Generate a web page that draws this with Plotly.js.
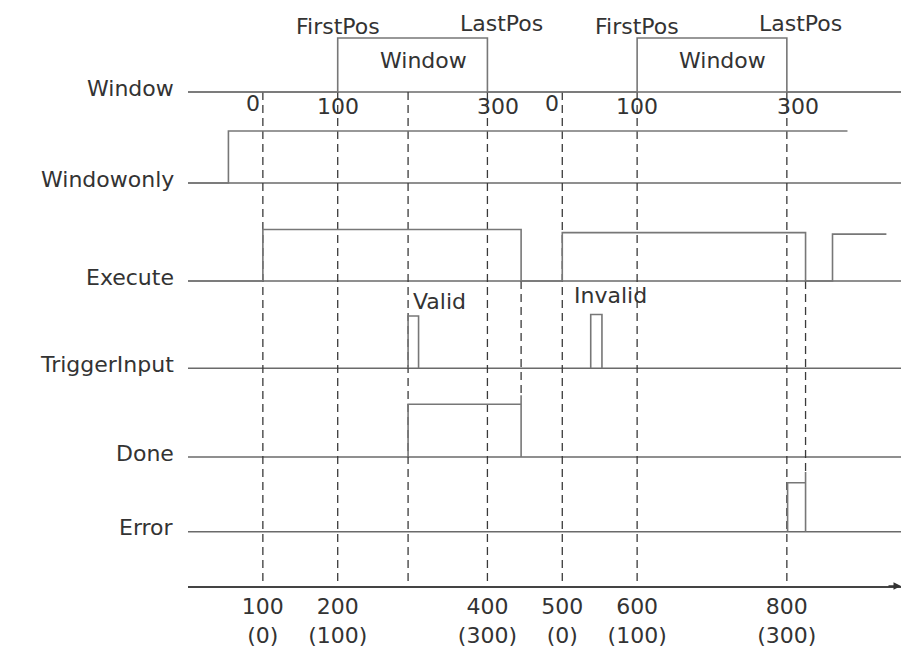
<!DOCTYPE html>
<html><head><meta charset="utf-8">
<script src="https://cdn.plot.ly/plotly-3.0.1.min.js"></script>
<style>html,body{margin:0;padding:0;background:#fff}#chart{width:901px;height:646px}</style>
</head><body><div id="chart"></div>
<script>
// ---------------- data (x in actual-position units, levels 0 = low, 1 = high) ----------------
const signalNames = ['Window', 'Windowonly', 'Execute', 'TriggerInput', 'Done', 'Error'];
const axisName = 'Actual position';
const windowStarts = [100, 500];          // actual position where window-relative position is 0
const windowMarks = [0, 100, 300];        // window-relative positions labelled above
const firstPos = 100, lastPos = 300;

const windowX  = [0, 200, 200, 400, 400, 600, 600, 800, 800, 952.5];
const windowLv = [0, 0, 1, 1, 0, 0, 1, 1, 0, 0];
const onlyX    = [0, 54, 54, 881];
const onlyLv   = [0, 0, 1, 1];
const execX    = [0, 100, 100, 445, 445, 500, 500, 825, 825, 861, 861, 933];
const execLv   = [0, 0, 1, 1, 0, 0, 0.94, 0.94, 0, 0, 0.91, 0.91];
const trigX    = [294, 294, 308, 308, null, 538, 538, 553, 553];
const trigLv   = [0, 1, 1, 0, null, 0, 1.03, 1.03, 0];
const doneX    = [294, 294, 445, 445, 445];
const doneLv   = [0, 1, 1, 1.17, 0];
const errX     = [801, 801, 825, 825, 825];
const errLv    = [0, 1, 1, 1.22, 0];

const markerX  = [100, 200, 294, 400, 500, 600, 800];  // dashed reference lines from Window row
const endMarkX = [445, 825];                           // dashed lines from Execute falling edges
const tickVals = [100, 200, 400, 500, 600, 800];
const tickRel  = [0, 100, 300, 0, 100, 300];
const validX = 294, invalidX = 538;

// ---------------- layout (track positions, styles) ----------------
const xMax = 952.5;
const rowY   = [92, 183, 281, 368.3, 457, 531.7];
const rowAmp = [54, 52, 51.5, 52.3, 52.7, 49];
const axisY = 586;
const FONT = {family: 'DejaVu Sans, Verdana, sans-serif', size: 22, color: '#333'};
const baseCol = '#6a6a6a', waveCol = '#777', dashCol = '#3a3a3a';

const toY = (row, lvs) => lvs.map(v => v === null ? null : rowY[row] - rowAmp[row] * v);

const traces = [];
// baselines
rowY.forEach((y, i) => traces.push({x: [0, xMax], y: [y, y], mode: 'lines', line: {color: baseCol, width: 1.6}, hoverinfo: 'skip'}));
// dashed reference lines
const dX = [], dY = [];
markerX.forEach(x => { dX.push(x, x, null); dY.push(rowY[0], axisY, null); });
dX.push(endMarkX[0], endMarkX[0], null); dY.push(rowY[2], toY(4, [Math.max(...doneLv)])[0], null);
dX.push(endMarkX[1], endMarkX[1], null); dY.push(rowY[2], toY(5, [Math.max(...errLv)])[0], null);
traces.push({x: dX, y: dY, mode: 'lines', line: {color: dashCol, width: 1.3, dash: '8px,5px'}, hoverinfo: 'skip'});
// waveforms
const waves = [[windowX, windowLv], [onlyX, onlyLv], [execX, execLv], [trigX, trigLv], [doneX, doneLv], [errX, errLv]];
waves.forEach(([xs, lv], i) => traces.push({x: xs, y: toY(i, lv), mode: 'lines', connectgaps: false,
  line: {color: waveCol, width: 1.6}, hoverinfo: 'skip'}));

const ann = [];
signalNames.forEach((n, i) => ann.push({text: n, xref: 'paper', x: 0, xshift: -12, xanchor: 'right', yref: 'y', y: rowY[i] - 4, showarrow: false, font: FONT}));
ann.push({text: axisName, xref: 'paper', x: 0, xshift: -7, xanchor: 'right', yref: 'y', y: axisY + 2, showarrow: false, font: FONT});
windowStarts.forEach(s => {
  windowMarks.forEach(m => {
    const isZero = m === 0, isLast = m === lastPos;
    ann.push({text: String(m), x: s + m, y: isZero ? 103 : 106, xanchor: isZero ? 'right' : 'center',
      xshift: isZero ? -1 : (isLast ? 11 : 0), showarrow: false, font: FONT});
  });
  ann.push({text: 'FirstPos', x: s + firstPos, y: 26, showarrow: false, font: FONT});
  ann.push({text: 'LastPos', x: s + lastPos, xshift: 14, y: 23, showarrow: false, font: FONT});
  ann.push({text: 'Window', x: s + (firstPos + lastPos) / 2, xshift: 11, y: 60, showarrow: false, font: FONT});
});
ann.push({text: 'Valid', x: validX, xanchor: 'left', xshift: 3, y: 301, showarrow: false, font: FONT});
ann.push({text: 'Invalid', x: invalidX, xanchor: 'left', xshift: -19, y: 295, showarrow: false, font: FONT});
ann.push({text: '', x: xMax, y: axisY, ax: -14, ay: 0, showarrow: true, arrowhead: 2, arrowsize: 1, arrowwidth: 1.5, arrowcolor: '#333'});

const layout = {
  width: 901, height: 646,
  margin: {l: 188, r: 0, t: 0, b: 60, pad: 0},
  paper_bgcolor: '#fff', plot_bgcolor: '#fff',
  showlegend: false,
  font: FONT,
  xaxis: {range: [0, xMax], showgrid: false, zeroline: false, showline: true, linecolor: '#444', linewidth: 1.5,
    ticks: '', tickvals: tickVals, ticktext: tickVals.map((v, i) => v + '<br>(' + tickRel[i] + ')'),
    tickfont: FONT, fixedrange: true},
  yaxis: {range: [axisY, 0], visible: false, fixedrange: true},
  annotations: ann
};
Plotly.newPlot('chart', traces, layout, {staticPlot: true});
</script></body></html>
